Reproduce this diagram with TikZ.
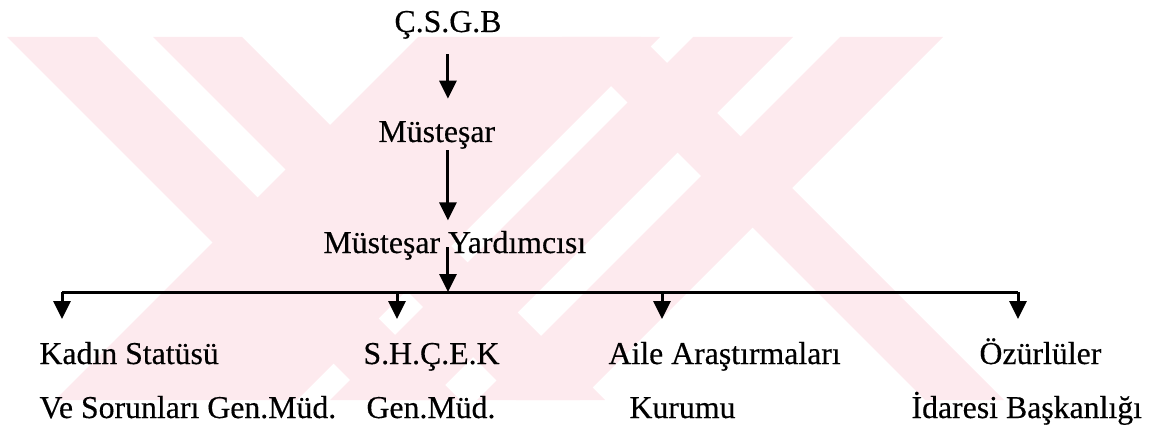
\documentclass[tikz,border=0pt]{standalone}
\usepackage{fontspec}
\setmainfont{Liberation Serif}[FakeBold=0.4]
\usetikzlibrary{arrows.meta, positioning}

\definecolor{markpink}{RGB}{253,234,238}

\begin{document}
\begin{tikzpicture}[
            x = 0.5pt, y = -0.5pt, % one unit = one pixel of the page, y downwards
            > = {Triangle[length = 9pt, width = 8.5pt]}, % arrow head style
            line width = 1.5pt,
            every node/.style = {inner sep = 0pt, font = \fontsize{15.9}{19}\selectfont},
            unit/.style = {anchor = base west}
        ]

        \useasboundingbox (0,0) rectangle (1155,427);

        % watermark stripes
        \foreach \a/\b in {7/97, 153/242, 562/641}
            \fill[markpink] (\a,37) -- (\b,37) -- (\b+363,400) -- (\a+363,400) -- cycle;
        \foreach \a/\b in {418/660, 693/793, 840/943}
            \fill[markpink] (\a,37) -- (\b,37) -- (\b-363,400) -- (\a-363,400) -- cycle;

	\node[unit] (csgb) at (393,32) {Ç.S.G.B};
	\node[unit] (mus) at (377,142) {Müsteşar};
	\node[unit] (yard) at (322,253) {Müsteşar Yardımcısı};

	\node[unit] (kadin) at (38,364) {Kadın Statüsü};
	\node[unit] (kadin2) at (38,418) {Ve Sorunları Gen.Müd.};
	\node[unit] (shcek) at (362,364) {S.H.Ç.E.K};
	\node[unit] (shcek2) at (365,418) {Gen.Müd.};
	\node[unit] (aile) at (607,364) {Aile Araştırmaları};
	\node[unit] (aile2) at (628,418) {Kurumu};
	\node[unit] (ozur) at (978,364) {Özürlüler};
	\node[unit] (ozur2) at (910,418) {İdaresi Başkanlığı};

        % drop points on the bus
        \coordinate (d1) at (62,292);
        \coordinate (d2) at (397,292);
        \coordinate (d3) at (662,292);
        \coordinate (d4) at (1018,292);

        \draw[->] ([yshift=-7pt]csgb.south) -- ([yshift=10.5pt]csgb.south |- mus.north);
        \draw[->] (csgb.south |- mus.south) -- ([yshift=4.5pt]csgb.south |- yard.north);
        \draw[->] ([yshift=3pt]csgb.south |- yard.base) -- (csgb.south |- d1);

        \draw (d1) -- (d4);
        \foreach \d/\n in {d1/kadin, d2/shcek, d3/aile, d4/ozur}
            \draw[->, shorten > = 22.5pt] (\d) -- (\d |- \n.base);

    \end{tikzpicture}
\end{document}
